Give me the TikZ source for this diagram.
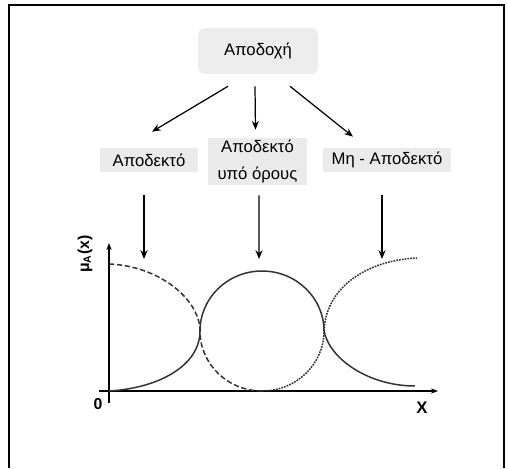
\documentclass[tikz,border=0pt]{standalone}
\usepackage{fontspec}
\setmainfont{Liberation Sans}
\usetikzlibrary{arrows.meta,positioning,calc}
\def\pxu{0.5669pt}

\begin{document}
\begin{tikzpicture}[x=0.02cm,y=-0.02cm,
  font=\fontsize{9.5}{15.3}\selectfont,
  box/.style={fill=black!8,inner sep=0pt,align=center,minimum height=24*\pxu},
  arr/.style={-{Stealth[length=5pt,width=4pt]},line width=0.7pt},
  axis/.style={-{Stealth[length=4pt,width=3pt]},line width=0.8pt},
  curve/.style={line width=0.85pt,black!80}]
  \useasboundingbox (0,0) rectangle (508,468);
  \draw[line width=1.1pt] (9,468) -- (9,5) -- (504,5) -- (504,468);

  % boxes
  \node[box,fill=black!7,rounded corners=3.5pt,minimum width=120*\pxu,minimum height=46*\pxu] (top) at (258,51) {Αποδοχή};
  \node[box,minimum width=98*\pxu] (acc) at (149,160) {Αποδεκτό};
  \node[box,minimum width=99*\pxu,minimum height=47*\pxu] (cond) at (257.5,161.5) {Αποδεκτό\\υπό όρους};
  \node[box,minimum width=128*\pxu] (rej) at (387,160) {Μη - Αποδεκτό};

  \draw[arr] ($(top.south)+(-30,12)$) -- ($(acc.north)+(3,-16)$);
  \draw[arr] ($(top.south)+(-3,12)$) -- ($(cond.north)+(-2,-8)$);
  \draw[arr] ($(top.south)+(32,12)$) -- ($(rej.north)+(-34,-11)$);

  % axes
  \coordinate (O) at (109,391);
  \coordinate (t1) at (144,259);
  \coordinate (t2) at (259,259);
  \coordinate (t3) at (382,259);
  \draw[arr] ($(acc.south)+(-5,23)$) -- (t1);
  \draw[arr] ($(cond.south)+(1.5,10)$) -- (t2);
  \draw[arr] ($(rej.south)+(-5,23)$) -- (t3);

  \draw[axis] ($(O)+(0,12)$) -- ($(O)+(0,-148)$);
  \draw[axis] ($(O)+(-10,0)$) -- ($(O)+(329,0)$);
  \node[font=\bfseries\fontsize{9}{11}\selectfont] (zero) at (98,404) {0};
  \node[font=\bfseries\fontsize{9.5}{11}\selectfont] (xlab) at (422,408) {X};
  \node[font=\bfseries\fontsize{9}{11}\selectfont,rotate=90] (mu) at (85,254) {μ\textsubscript{A}(x)};

  % membership curves
  \draw[curve,dashed,dash pattern=on 3pt off 1.5pt] (109,264) .. controls (160,266) and (200,300) .. (200,331)
    .. controls (200,364.1) and (227.8,391) .. (262,391);
  \draw[curve] (109,391) .. controls (160,388) and (200,365) .. (200,331)
    .. controls (200,297.9) and (227.8,271) .. (262,271)
    .. controls (296.2,271) and (324,297.9) .. (324,331)
    .. controls (330,360) and (370,386) .. (415,386);
  \draw[curve,dash pattern=on 1pt off 0.6pt] (262,391) .. controls (296.2,391) and (324,364.1) .. (324,331)
    .. controls (326,285) and (370,260) .. (417,258);
\end{tikzpicture}
\end{document}
